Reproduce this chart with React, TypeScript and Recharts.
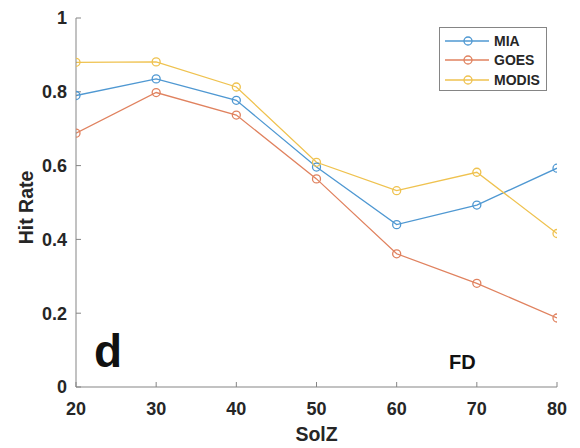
import React from 'react';
import { LineChart, Line, XAxis, YAxis, Customized } from 'recharts';

// Solar zenith angle bins (degrees)
const solz = [20, 30, 40, 50, 60, 70, 80];
// Hit rate per product
const mia = [0.79, 0.835, 0.777, 0.596, 0.44, 0.493, 0.593];
const goes = [0.688, 0.798, 0.737, 0.564, 0.361, 0.281, 0.187];
const modis = [0.88, 0.881, 0.813, 0.609, 0.532, 0.582, 0.416];

const xTicks = [20, 30, 40, 50, 60, 70, 80];
const yTicks = [0, 0.2, 0.4, 0.6, 0.8, 1];

const seriesNames = ['MIA', 'GOES', 'MODIS'];
const seriesColors = ['#4f98d2', '#e0825f', '#efc24f'];

const data = solz.map((s, i) => ({ solz: s, MIA: mia[i], GOES: goes[i], MODIS: modis[i] }));

const FONT = '"Liberation Sans", Arial, sans-serif';
const AXIS_COLOR = '#858585';
const TEXT_COLOR = '#262626';

const tickStyle = { fontFamily: FONT, fontSize: 18, fontWeight: 700, fill: TEXT_COLOR };
const titleStyle = { fontFamily: FONT, fontSize: 19.5, fontWeight: 700, fill: TEXT_COLOR };

const LegendBox = () => (
  <div
    style={{
      position: 'absolute',
      left: 439,
      top: 27,
      width: 108,
      height: 64,
      border: `1px solid ${AXIS_COLOR}`,
      background: '#fff',
      boxSizing: 'border-box',
      paddingTop: 3,
    }}
  >
    {seriesNames.map((name, i) => (
      <div key={name} style={{ display: 'flex', alignItems: 'center', height: 19.5 }}>
        <svg width={50} height={14} style={{ marginLeft: 4 }}>
          <line x1={1} y1={7} x2={45} y2={7} stroke={seriesColors[i]} strokeWidth={1.3} />
          <circle cx={24} cy={7} r={4} fill="none" stroke={seriesColors[i]} strokeWidth={1.3} />
        </svg>
        <span
          style={{
            fontFamily: FONT,
            fontWeight: 700,
            fontSize: 14,
            color: TEXT_COLOR,
            lineHeight: '14px',
          }}
        >
          {name}
        </span>
      </div>
    ))}
  </div>
);

const Annotations = () => (
  <g>
    <text x={94} y={367} fontFamily={FONT} fontWeight={700} fontSize={46} fill="#111">
      d
    </text>
    <text x={449} y={369} fontFamily={FONT} fontWeight={700} fontSize={20} fill="#111">
      FD
    </text>
  </g>
);

export default function App() {
  return (
    <div style={{ position: 'absolute', left: 0, top: 0, width: 580, height: 448, background: '#fff' }}>
      <LineChart width={580} height={448} data={data} margin={{ top: 18, right: 23, bottom: 21, left: 0 }}>
        <XAxis
          dataKey="solz"
          type="number"
          domain={[20, 80]}
          ticks={xTicks}
          allowDataOverflow
          height={40}
          tickSize={-5}
          tickMargin={20}
          tick={tickStyle}
          stroke={AXIS_COLOR}
          label={{
            value: 'SolZ',
            position: 'bottom',
            offset: 0,
            style: titleStyle,
          }}
        />
        <XAxis
          xAxisId="top"
          dataKey="solz"
          type="number"
          orientation="top"
          domain={[20, 80]}
          ticks={xTicks}
          height={0}
          tickSize={-5}
          tick={() => <g />}
          stroke={AXIS_COLOR}
        />
        <YAxis
          type="number"
          domain={[0, 1]}
          ticks={yTicks}
          width={76}
          tickSize={-5}
          tickMargin={14}
          tick={tickStyle}
          stroke={AXIS_COLOR}
          label={{
            value: 'Hit Rate',
            angle: -90,
            position: 'insideLeft',
            offset: 26,
            dy: 5,
            style: { ...titleStyle, textAnchor: 'middle' },
          }}
        />
        <YAxis
          yAxisId="right"
          orientation="right"
          type="number"
          domain={[0, 1]}
          ticks={yTicks}
          width={0}
          tickSize={-5}
          tick={() => <g />}
          stroke={AXIS_COLOR}
        />
        {seriesNames.map((name, i) => (
          <Line
            key={name}
            dataKey={name}
            stroke={seriesColors[i]}
            strokeWidth={1.3}
            dot={{ r: 4, fill: 'none', stroke: seriesColors[i], strokeWidth: 1.3 }}
            isAnimationActive={false}
          />
        ))}
        <Customized component={Annotations} />
      </LineChart>
      <LegendBox />
    </div>
  );
}
